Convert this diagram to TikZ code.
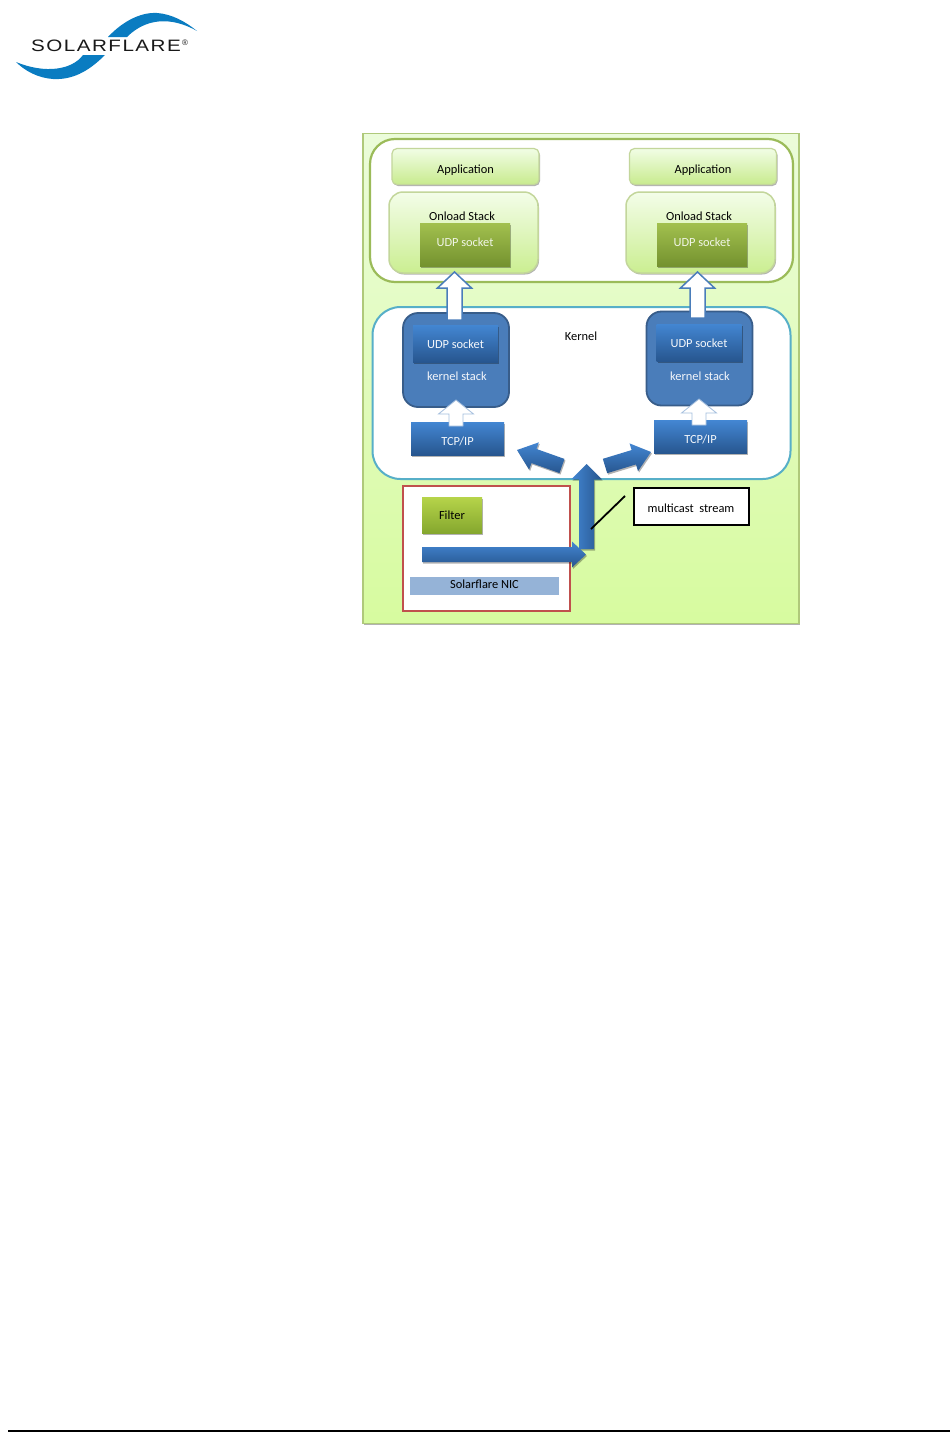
\documentclass[tikz,border=0pt]{standalone}
\usepackage{fontspec}
\setmainfont{Carlito}
\newfontfamily\logofont[FakeStretch=1.25,LetterSpace=9]{Liberation Sans}
\newfontfamily\markfont{Liberation Sans}
\usetikzlibrary{arrows.meta,calc,positioning,shadows}
\definecolor{panelTop}{HTML}{EBFCDA}
\definecolor{panelBot}{HTML}{D7FB9F}
\definecolor{leafLine}{HTML}{9BBB59}
\definecolor{seaLine}{HTML}{57AFC8}
\definecolor{navyLine}{HTML}{385D8A}
\definecolor{stackBlue}{HTML}{4A7DBA}
\definecolor{barBlue}{HTML}{95B3D7}
\definecolor{nicRed}{HTML}{C0504D}
\definecolor{logoBlue}{HTML}{0A7CC1}
\definecolor{oliveTop}{HTML}{A2C04E}
\definecolor{oliveBot}{HTML}{74922F}
\definecolor{filterTop}{HTML}{B6D44A}
\definecolor{filterBot}{HTML}{85A72E}
\definecolor{royalTop}{HTML}{4386D2}
\definecolor{royalBot}{HTML}{27568F}
\tikzset{
  softshadow/.style={drop shadow={shadow xshift=1pt,shadow yshift=-1.5pt,opacity=.3,fill=black}},
  lbl/.style={font=\fontsize{12.4}{13}\selectfont,text=black,inner sep=0pt},
  textdrop/.style={text height=#1,text depth=0pt},
  appbox/.style={lbl,textdrop=13pt,draw=leafLine!60,line width=1.2pt,rounded corners=5pt,top color=panelTop!70!white,bottom color=panelBot!75!leafLine,
    minimum width=147pt,minimum height=36pt,softshadow},
  onloadbox/.style={draw=leafLine!60,line width=1.5pt,rounded corners=14pt,top color=panelTop!60!white,bottom color=panelBot!80!leafLine,
    minimum width=149pt,minimum height=81pt,softshadow},
  greenudp/.style={lbl,textdrop=4.4pt,text=white!85!leafLine,draw=none,top color=oliveTop,bottom color=oliveBot,
    minimum width=90pt,minimum height=43pt,softshadow},
  stackbox/.style={draw=navyLine,line width=1.8pt,rounded corners=15pt,fill=stackBlue,minimum width=106pt,minimum height=94pt},
  blueudp/.style={lbl,textdrop=9pt,text=white!90!barBlue,top color=royalTop,bottom color=royalBot,
    minimum width=85pt,minimum height=37pt,softshadow},
  tcpbox/.style={lbl,textdrop=13pt,text=white!90!barBlue,top color=royalTop,bottom color=royalBot,
    minimum width=93pt,minimum height=33pt,softshadow},
  whitearrow/.style={draw=stackBlue,line width=1.5pt,fill=white,line join=miter},
  bluearrow/.style={draw=none,top color=royalTop,bottom color=royalBot,softshadow},
}
% style, from, to, head length, half shaft, half head
\newcommand{\blockarrow}[6]{%
  \coordinate (neck) at ($(#3)!#4!(#2)$);
  \path[#1] ($(#2)!#5!-90:(#3)$) -- ($(neck)!#5!-90:(#3)$) -- ($(neck)!#6!-90:(#3)$) -- (#3)
    -- ($(neck)!#6!90:(#3)$) -- ($(neck)!#5!90:(#3)$) -- ($(#2)!#5!90:(#3)$) -- cycle;
}
\begin{document}
\begin{tikzpicture}[x=1pt,y=-1pt,>=Latex]
\useasboundingbox (0,0) rectangle (950,1432);
% logo
\fill[logoBlue] (16,62) .. controls (45,74) and (72,70) .. (83,55) -- (105,55) .. controls (88,72) and (72,80) .. (53,79) .. controls (38,78) and (25,71) .. cycle;
\fill[logoBlue] (108,37) .. controls (122,22) and (140,12) .. (157,13) .. controls (172,14) and (186,22) .. (197,31) .. controls (178,20) and (150,14) .. (127,37) -- cycle;
\node[font=\logofont\fontsize{16.5}{17}\selectfont,text=black!90,inner sep=0pt] (brand) at (106,46) {SOLARFLARE};
\node[font=\markfont\fontsize{8}{8}\selectfont,text=black!90,inner sep=0pt] (brandmark) at (185,43) {®};
% panel
\node[draw=leafLine!80,line width=1.5pt,top color=panelTop,bottom color=panelBot,minimum width=436pt,minimum height=490pt,softshadow] (panel) at (581,378.5) {};
% user space
\node[draw=leafLine,line width=2.2pt,fill=white,rounded corners=25pt,minimum width=423pt,minimum height=143pt] (userspace) at (581.5,210.5) {};
\node[appbox] (appL) at (465.5,166.5) {Application};
\node[appbox] (appR) at (703,166.5) {Application};
\node[onloadbox] (onloadL) at (463.5,232.5) {};
\node[onloadbox] (onloadR) at (700.5,232.5) {};
\node[lbl] (onloadtextL) at (462,216) {Onload Stack};
\node[lbl] (onloadtextR) at (699,216) {Onload Stack};
\node[greenudp] (udpgreenL) at (465,244.5) {UDP socket};
\node[greenudp] (udpgreenR) at (702,244.5) {UDP socket};
% kernel
\node[draw=seaLine,line width=2pt,fill=white,rounded corners=28pt,minimum width=418pt,minimum height=172pt] (kernel) at (581.5,393) {};
\node[lbl] (kerneltext) at (581,336) {Kernel};
\node[stackbox] (stackL) at (456,360) {};
\node[stackbox] (stackR) at (699.5,358.5) {};
\node[blueudp] (udpblueL) at (455.5,343.5) {UDP socket};
\node[blueudp] (udpblueR) at (699,342.5) {UDP socket};
\node[lbl,text=white!90!barBlue] (kstackL) at (457,376) {kernel stack};
\node[lbl,text=white!90!barBlue] (kstackR) at (700,376) {kernel stack};
\node[tcpbox] (tcpL) at (457.5,438.5) {TCP/IP};
\node[tcpbox] (tcpR) at (700.5,437) {TCP/IP};
% nic
\node[draw=nicRed,line width=2pt,fill=white,minimum width=167pt,minimum height=125pt] (nic) at (486,548.5) {};
\node[lbl,textdrop=8pt,text=black,top color=filterTop,bottom color=filterBot,minimum width=60pt,minimum height=36pt,softshadow] (filter) at (452,515) {Filter};
\node[lbl,textdrop=4pt,fill=barBlue,minimum width=149pt,minimum height=18pt] (nicbar) at (484.5,586) {Solarflare NIC};
\node[lbl,textdrop=11pt,draw=black,line width=2pt,fill=white,minimum width=115pt,minimum height=37pt] (mcast) at (691,506.5) {multicast\ \ stream};
% arrows
\coordinate (whiteLa) at (454.5,320); \coordinate (whiteLb) at (454.5,272);
\coordinate (whiteRa) at (697.5,318); \coordinate (whiteRb) at (697.5,272);
\coordinate (smallLa) at (456,426);   \coordinate (smallLb) at (456,400);
\coordinate (smallRa) at (699,425);   \coordinate (smallRb) at (699,399);
\blockarrow{whitearrow}{whiteLa}{whiteLb}{16pt}{7.5pt}{17pt}
\blockarrow{whitearrow}{whiteRa}{whiteRb}{16pt}{7.5pt}{17pt}
\blockarrow{draw=stackBlue!50,line width=.8pt,fill=white}{smallLa}{smallLb}{14pt}{7pt}{17.5pt}
\blockarrow{draw=stackBlue!50,line width=.8pt,fill=white}{smallRa}{smallRb}{14pt}{7pt}{17.5pt}
\coordinate (diagLa) at (562,466); \coordinate (diagLb) at (517,450);
\coordinate (diagRa) at (605,466); \coordinate (diagRb) at (651,452);
\blockarrow{bluearrow}{diagLa}{diagLb}{18pt}{7.5pt}{14.5pt}
\blockarrow{bluearrow}{diagRa}{diagRb}{18pt}{7.5pt}{14.5pt}
\coordinate (riseA) at (586.5,549); \coordinate (riseB) at (586.5,464);
\blockarrow{draw=none,left color=royalTop,right color=royalBot,softshadow}{riseA}{riseB}{15pt}{7.5pt}{15pt}
\coordinate (runA) at (422,554.5); \coordinate (runB) at (586,554.5);
\blockarrow{bluearrow}{runA}{runB}{14pt}{7.5pt}{13pt}
\coordinate (leaderA) at (625,496); \coordinate (leaderB) at (591,529);
\draw[line width=1.8pt] (leaderA) -- (leaderB);
% page rule
\coordinate (ruleA) at (8,1431); \coordinate (ruleB) at (950,1431);
\draw[line width=1.4pt] (ruleA) -- (ruleB);
\end{tikzpicture}
\end{document}
